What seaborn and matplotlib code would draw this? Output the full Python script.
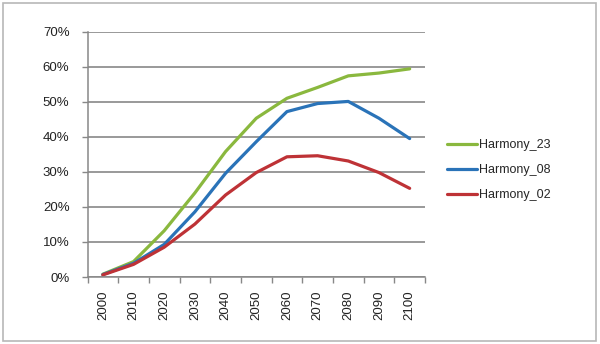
import matplotlib
matplotlib.use("Agg")
import matplotlib.pyplot as plt
from matplotlib.patches import Rectangle
from matplotlib.ticker import PercentFormatter, FixedLocator, NullFormatter
import seaborn as sns
import pandas as pd

years = [2000, 2010, 2020, 2030, 2040, 2050, 2060, 2070, 2080, 2090, 2100]
harmony_23 = [0.8, 4.4, 13.2, 24.0, 35.8, 45.3, 51.0, 54.1, 57.4, 58.2, 59.4]
harmony_08 = [0.7, 3.9, 9.3, 18.6, 29.6, 38.6, 47.2, 49.5, 50.1, 45.3, 39.5]
harmony_02 = [0.6, 3.6, 8.5, 15.1, 23.4, 29.8, 34.3, 34.6, 33.1, 29.8, 25.3]
series_names = ["Harmony_23", "Harmony_08", "Harmony_02"]
colors = ["#8AB83E", "#2A73B8", "#BE3236"]

rows = []
for name, vals in zip(series_names, [harmony_23, harmony_08, harmony_02]):
    for i, (y, v) in enumerate(zip(years, vals)):
        rows.append({"pos": i, "year": str(y), "value": v, "series": name})
df = pd.DataFrame(rows)

sns.set_theme(style="white")
plt.rcParams["font.family"] = ["Liberation Sans", "DejaVu Sans"]

fig = plt.figure(figsize=(6.0, 3.44), dpi=100)
ax = fig.add_axes([87.5 / 600, 1 - 277 / 344, (425 - 87.5) / 600, (277 - 31.7) / 344])

sns.lineplot(data=df, x="pos", y="value", hue="series", hue_order=series_names,
             palette=colors, linewidth=2.3, ax=ax, legend=True, sort=False)

ax.set_xlim(-0.5, len(years) - 0.5)
ax.set_ylim(0, 70)
ax.set_yticks(range(0, 71, 10))
ax.yaxis.set_major_formatter(PercentFormatter(decimals=0))
ax.set_xticks(range(len(years)))
ax.set_xticklabels([str(y) for y in years], rotation=90)
ax.xaxis.set_minor_locator(FixedLocator([i - 0.5 for i in range(len(years) + 1)]))
ax.xaxis.set_minor_formatter(NullFormatter())
ax.tick_params(axis="x", which="major", length=0, pad=9.5, labelsize=9.5, colors="#222222")
ax.tick_params(axis="x", which="minor", length=4, width=1, color="#888888", direction="out", bottom=True)
ax.tick_params(axis="y", which="major", length=4, width=1, color="#888888", direction="out",
               left=True, pad=9, labelsize=9.5, labelcolor="#222222")
ax.grid(axis="y", color="#878787", linewidth=1.2)
ax.set_axisbelow(True)
for s in ["top", "right"]:
    ax.spines[s].set_visible(False)
for s in ["left", "bottom"]:
    ax.spines[s].set_color("#888888")
    ax.spines[s].set_linewidth(1.1)
ax.set_xlabel("")
ax.set_ylabel("")

handles, labels = ax.get_legend_handles_labels()
ax.legend(handles, labels, loc="center left", bbox_to_anchor=(447 / 600, 1 - 170 / 344),
          bbox_transform=fig.transFigure, frameon=False, fontsize=9,
          handlelength=2.4, handletextpad=0.2, labelspacing=1.05,
          borderpad=0, borderaxespad=0)

fig.patches.append(Rectangle((3 / 600, 3 / 344), 593 / 600, 338 / 344, transform=fig.transFigure,
                             fill=False, edgecolor="#b8b8b8", linewidth=1.2))

fig.savefig("out.png", dpi=100)
